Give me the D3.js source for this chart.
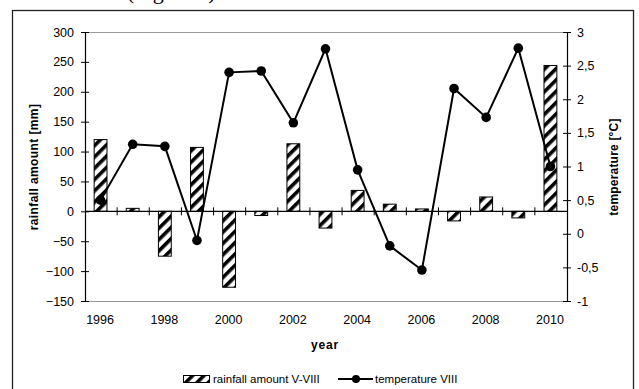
<!doctype html>
<html>
<head>
  <title>Rainfall and temperature</title>
  <meta charset="UTF-8">
  <script src="https://d3js.org/d3.v7.min.js"></script>
  <style>
    body { margin: 0; background: #fff; }
    text { font-family: Arial, "Liberation Sans", sans-serif; fill: #000; }
  </style>
</head>
<body>
  <div id="svg_area"></div>
</body>
</html>
<script>

// data
var years = [1996, 1997, 1998, 1999, 2000, 2001, 2002, 2003, 2004, 2005, 2006, 2007, 2008, 2009, 2010];
var rainfall = [120, 5, -75, 107, -127, -7, 113, -28, 35, 12, 4, -16, 24, -11, 244];
var temperature = [0.5, 1.33, 1.3, -0.1, 2.4, 2.42, 1.65, 2.75, 0.95, -0.18, -0.54, 2.16, 1.73, 2.76, 1.0];
var rainTicks = [-150, -100, -50, 0, 50, 100, 150, 200, 250, 300];
var tempTicks = [-1, -0.5, 0, 0.5, 1, 1.5, 2, 2.5, 3];
var yearLabels = [1996, 1998, 2000, 2002, 2004, 2006, 2008, 2010];

// plot area edges ("top" is taken by window.top)
var plotLeft = 85, plotRight = 567, plotTop = 32, plotBottom = 301;

var svg = d3.select("#svg_area").append("svg")
    .attr("width", 639)
    .attr("height", 389);

// hatch pattern for the bars
var defs = svg.append("defs");
var pat = defs.append("pattern")
    .attr("id", "hatch")
    .attr("patternUnits", "userSpaceOnUse")
    .attr("width", 8)
    .attr("height", 8)
    .attr("patternTransform", "rotate(45)");
pat.append("rect").attr("width", 8).attr("height", 8).attr("fill", "#fff");
pat.append("rect").attr("width", 3.6).attr("height", 8).attr("fill", "#000");

// outer frame
svg.append("rect")
    .attr("x", 12.5).attr("y", 10.5)
    .attr("width", 621).attr("height", 400)
    .attr("fill", "none")
    .attr("stroke", "#222")
    .attr("stroke-width", 1.3);

// caption of the page, only its lower edge shows
svg.append("text")
    .attr("x", 127).attr("y", -1)
    .style("font-family", "'Liberation Serif', 'Times New Roman', serif")
    .attr("font-size", "22px")
    .text("(Figure 6)");

// scales
var xScale = d3.scaleBand()
    .domain(years)
    .range([plotLeft, plotRight]);

var yScale = d3.scaleLinear()
    .domain([-150, 300])
    .range([plotBottom, plotTop]);

var tScale = d3.scaleLinear()
    .domain([-1, 3])
    .range([plotBottom, plotTop]);

// plot border top and bottom (gray)
svg.append("line")
    .attr("x1", plotLeft).attr("x2", plotRight)
    .attr("y1", plotTop + 0.5).attr("y2", plotTop + 0.5)
    .attr("stroke", "#999");
svg.append("line")
    .attr("x1", plotLeft).attr("x2", plotRight)
    .attr("y1", plotBottom + 0.5).attr("y2", plotBottom + 0.5)
    .attr("stroke", "#999");

// bars
var barW = xScale.bandwidth() / 2.5;
svg.selectAll("rect.bar")
    .data(rainfall)
    .enter()
    .append("rect")
    .attr("class", "bar")
    .attr("x", function (d, i) { return xScale(years[i]) + xScale.bandwidth() / 2 - barW / 2 - 0.5; })
    .attr("y", function (d) { return yScale(Math.max(d, 0)); })
    .attr("width", barW)
    .attr("height", function (d) { return Math.abs(yScale(d) - yScale(0)); })
    .attr("fill", "url(#hatch)")
    .attr("stroke", "#000")
    .attr("stroke-width", 1);

// zero line with tick marks between years
var y0 = yScale(0);
svg.append("line")
    .attr("x1", plotLeft).attr("x2", plotRight)
    .attr("y1", y0).attr("y2", y0)
    .attr("stroke", "#000")
    .attr("stroke-width", 1.2);
svg.selectAll("line.xtick")
    .data(years.slice(1))
    .enter()
    .append("line")
    .attr("class", "xtick")
    .attr("x1", function (d) { return xScale(d); })
    .attr("x2", function (d) { return xScale(d); })
    .attr("y1", y0 - 4).attr("y2", y0 + 4)
    .attr("stroke", "#000");

// left axis
var yAxis = d3.axisLeft(yScale)
    .tickValues(rainTicks)
    .tickSize(4)
    .tickPadding(7)
    .tickSizeOuter(0);
var gl = svg.append("g")
    .attr("transform", "translate(" + plotLeft + ",0)")
    .call(yAxis);
gl.select(".domain").attr("stroke", "#000").attr("stroke-width", 1.2);
gl.selectAll(".tick line").attr("x1", -4).attr("x2", 4);
gl.selectAll(".tick text").attr("font-size", "12.5px").attr("fill", "#000");

// right axis
var tAxis = d3.axisRight(tScale)
    .tickValues(tempTicks)
    .tickSize(4)
    .tickPadding(6)
    .tickSizeOuter(0)
    .tickFormat(function (d) { return String(d).replace(".", ","); });
var gr = svg.append("g")
    .attr("transform", "translate(" + plotRight + ",0)")
    .call(tAxis);
gr.select(".domain").attr("stroke", "#000").attr("stroke-width", 1.2);
gr.selectAll(".tick line").attr("x1", -4).attr("x2", 4);
gr.selectAll(".tick text").attr("font-size", "12.5px").attr("fill", "#000");

// year labels below the plot
var xAxis = d3.axisBottom(xScale)
    .tickValues(yearLabels)
    .tickSize(0)
    .tickPadding(14);
var gx = svg.append("g")
    .attr("transform", "translate(-1," + plotBottom + ")")
    .call(xAxis);
gx.select(".domain").remove();
gx.selectAll(".tick text").attr("font-size", "12.5px").attr("fill", "#000");

// temperature line
var line = d3.line()
    .x(function (d, i) { return xScale(years[i]) + xScale.bandwidth() / 2 - 0.5; })
    .y(function (d) { return tScale(d); });
svg.append("path")
    .datum(temperature)
    .attr("d", line)
    .attr("fill", "none")
    .attr("stroke", "#000")
    .attr("stroke-width", 2);
svg.selectAll("circle.pt")
    .data(temperature)
    .enter()
    .append("circle")
    .attr("class", "pt")
    .attr("cx", function (d, i) { return xScale(years[i]) + xScale.bandwidth() / 2 - 0.5; })
    .attr("cy", function (d) { return tScale(d); })
    .attr("r", 4.8)
    .attr("fill", "#000");

// axis titles
svg.append("text")
    .attr("transform", "translate(38,167) rotate(-90)")
    .attr("text-anchor", "middle")
    .attr("font-size", "12px")
    .attr("font-weight", "bold")
    .attr("letter-spacing", "0.4px")
    .text("rainfall amount [mm]");
svg.append("text")
    .attr("transform", "translate(618,167) rotate(-90)")
    .attr("text-anchor", "middle")
    .attr("font-size", "12px")
    .attr("font-weight", "bold")
    .attr("letter-spacing", "0.2px")
    .text("temperature [°C]");
svg.append("text")
    .attr("x", 325).attr("y", 349)
    .attr("text-anchor", "middle")
    .attr("font-size", "12px")
    .attr("font-weight", "bold")
    .attr("letter-spacing", "0.8px")
    .text("year");

// legend
svg.append("rect")
    .attr("x", 183.5).attr("y", 375.5)
    .attr("width", 26).attr("height", 7)
    .attr("fill", "url(#hatch)")
    .attr("stroke", "#000");
svg.append("text")
    .attr("x", 213).attr("y", 383)
    .attr("font-size", "11.5px")
    .text("rainfall amount V-VIII");
svg.append("line")
    .attr("x1", 338).attr("x2", 373)
    .attr("y1", 379).attr("y2", 379)
    .attr("stroke", "#000")
    .attr("stroke-width", 2);
svg.append("circle")
    .attr("cx", 356).attr("cy", 379)
    .attr("r", 4)
    .attr("fill", "#000");
svg.append("text")
    .attr("x", 375).attr("y", 383)
    .attr("font-size", "11.5px")
    .text("temperature VIII");

</script>
